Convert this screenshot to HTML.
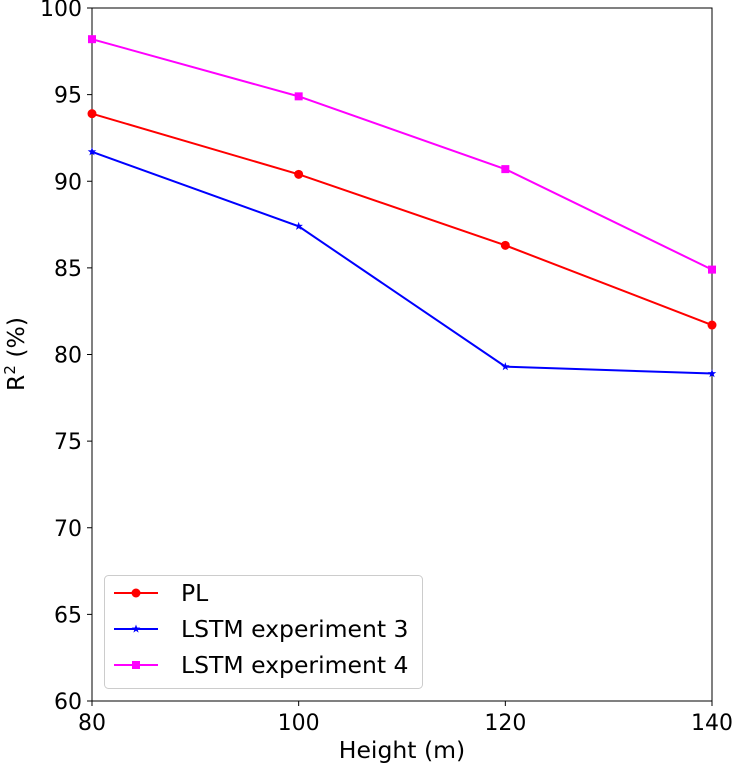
<!DOCTYPE html>
<html><head><meta charset="utf-8"><style>
body{margin:0;background:#fff;}
svg text{font-family:"DejaVu Sans","Liberation Sans",sans-serif;fill:#000;}
</style></head><body>
<svg id="chart" width="734" height="764" xmlns="http://www.w3.org/2000/svg"></svg>
<script>
const categories=[80,100,120,140];
const plValues=[93.9,90.4,86.3,81.7];
const lstm3Values=[91.7,87.4,79.3,78.9];
const lstm4Values=[98.2,94.9,90.7,84.9];
const yTicks=[60,65,70,75,80,85,90,95,100];
const xTicks=[80,100,120,140];
const seriesNames=["PL","LSTM experiment 3","LSTM experiment 4"];

const NS="http://www.w3.org/2000/svg";
const svg=document.getElementById('chart');
const L=92,R=712,T=8,B=701;
const xs=v=>L+(v-80)/60*(R-L);
const ys=v=>B-(v-60)/40*(B-T);
function mk(tag,attrs,parent){const e=document.createElementNS(NS,tag);for(const k in attrs)e.setAttribute(k,attrs[k]);(parent||svg).appendChild(e);return e;}

const frame=mk('rect',{x:L,y:T,width:R-L,height:B-T,fill:'none',stroke:'#000','stroke-width':1});



yTicks.forEach(v=>{
  const y=ys(v);
  const t=mk('line',{x1:L-5,x2:L,y1:y,y2:y,stroke:'#000'});
  
  
  const tx=mk('text',{x:L-10,y:y+8,'text-anchor':'end','font-size':22});
  tx.textContent=v;
  
  
});
xTicks.forEach(v=>{
  const x=xs(v);
  const t=mk('line',{x1:x,x2:x,y1:B,y2:B+5,stroke:'#000'});
  
  
  const tx=mk('text',{x:x,y:730,'text-anchor':'middle','font-size':22});
  tx.textContent=v;
  
  
});

const xl=mk('text',{x:402,y:758,'text-anchor':'middle','font-size':23.5});
xl.textContent='Height (m)';


const yl=mk('text',{x:0,y:0,'text-anchor':'middle','font-size':23.5,transform:'translate(24,354) rotate(-90)'});
yl.innerHTML='R<tspan dy="-9" font-size="15">2</tspan><tspan dy="9"> (%)</tspan>';



function marker(type,x,y,color,parent){
  let m;
  if(type==='circle') m=mk('circle',{cx:x,cy:y,r:4.5,fill:color},parent);
  else if(type==='square') m=mk('rect',{x:x-4,y:y-4,width:8,height:8,fill:color},parent);
  else {
    const pts=[];for(let i=0;i<10;i++){const r=i%2?1.8:4.5;const a=-Math.PI/2+i*Math.PI/5;pts.push((x+r*Math.cos(a)).toFixed(1)+','+(y+r*Math.sin(a)).toFixed(1));}
    m=mk('polygon',{points:pts.join(' '),fill:color},parent);
  }
  return m;
}
const series=[[plValues,'#ff0000','circle','series-pl'],[lstm3Values,'#0000ff','star','series-lstm3'],[lstm4Values,'#ff00ff','square','series-lstm4']];
series.forEach(([vals,c,m,name])=>{
  const g=mk('g',{});
  
  
  const p=mk('polyline',{points:vals.map((v,i)=>xs(categories[i])+','+ys(v)).join(' '),fill:'none',stroke:c,'stroke-width':2},g);
  
  
  vals.forEach((v,i)=>{
    const mm=marker(m,xs(categories[i]),ys(v),c,g);
    
    
  });
});

const lg=mk('g',{});


mk('rect',{x:104.5,y:575.5,width:318,height:113,rx:4,fill:'#fff',stroke:'#ccc'},lg);
series.forEach(([vals,c,m],i)=>{
  const y=593+i*36;
  const e=mk('g',{},lg);
  
  
  mk('line',{x1:114,x2:158,y1:y,y2:y,stroke:c,'stroke-width':2},e);
  marker(m,136,y,c,e);
  const t=mk('text',{x:181,y:y+8,'font-size':23.5},e);
  t.textContent=seriesNames[i];
});
</script>
</body></html>
